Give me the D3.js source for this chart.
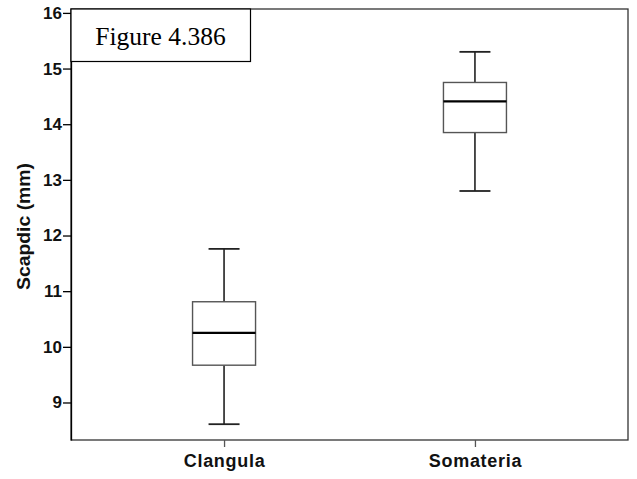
<!DOCTYPE html>
<html><head><meta charset="utf-8">
<script src="https://cdn.jsdelivr.net/npm/d3@7"></script>
<style>body{margin:0;background:#fff}svg{display:block}</style>
</head><body>
<script>
const categories = ["Clangula", "Somateria"];
const whiskerLow  = [8.61, 12.80];
const q1          = [9.67, 13.85];
const medians     = [10.25, 14.41];
const q3          = [10.81, 14.75];
const whiskerHigh = [11.76, 15.30];
const yTicks = [9, 10, 11, 12, 13, 14, 15, 16];
const yTitle = "Scapdic (mm)";
const figLabel = "Figure 4.386";

const W = 637, H = 479;
const L = 71, R = 628, T = 9, B = 440;
const svg = d3.select("body").append("svg").attr("width", W).attr("height", H);

const y = d3.scaleLinear().domain([8.326, 16.07]).range([B, T]);
const x = d3.scalePoint().domain(categories).range([L, R]).padding(0.61);
const boxW = 63, capW = 31;

// frame
svg.append("rect").attr("x", L).attr("y", T).attr("width", R - L).attr("height", B - T)
  .attr("fill", "none").attr("stroke", "#333").attr("stroke-width", 1.3);

// y axis
const ya = svg.append("g").attr("transform", `translate(${L},0)`)
  .call(d3.axisLeft(y).tickValues(yTicks).tickSizeInner(8).tickSizeOuter(0).tickPadding(1).tickFormat(d3.format("d")));
ya.select(".domain").attr("stroke", "#000").attr("stroke-width", 1.3);
ya.selectAll(".tick line").attr("stroke", "#000").attr("stroke-width", 1.3);
ya.selectAll(".tick text").attr("font-family", "Liberation Sans, Arial, sans-serif")
  .attr("font-weight", "bold").attr("font-size", 17).attr("fill", "#111");

// x axis
const xa = svg.append("g").attr("transform", `translate(0,${B})`)
  .call(d3.axisBottom(x).tickSizeInner(7).tickSizeOuter(0).tickPadding(7));
xa.select(".domain").remove();
xa.selectAll(".tick line").attr("stroke", "#555").attr("stroke-width", 1.3);
xa.selectAll(".tick text").attr("font-family", "Liberation Sans, Arial, sans-serif")
  .attr("font-weight", "bold").attr("font-size", 18).attr("fill", "#111")
  .attr("letter-spacing", 0.7);

// y title
svg.append("text").attr("transform", `translate(29.5,${(T + B) / 2 + 2}) rotate(-90)`)
  .attr("text-anchor", "middle").attr("font-family", "Liberation Sans, Arial, sans-serif")
  .attr("font-weight", "bold").attr("font-size", 17.5).attr("fill", "#111")
  .attr("textLength", 127).attr("lengthAdjust", "spacingAndGlyphs").text(yTitle);

// boxes
const g = svg.append("g");
categories.forEach((c, i) => {
  const cx = x(c);
  g.append("line").attr("x1", cx).attr("x2", cx).attr("y1", y(whiskerHigh[i])).attr("y2", y(q3[i]))
    .attr("stroke", "#222").attr("stroke-width", 1.6);
  g.append("line").attr("x1", cx).attr("x2", cx).attr("y1", y(q1[i])).attr("y2", y(whiskerLow[i]))
    .attr("stroke", "#222").attr("stroke-width", 1.6);
  [whiskerHigh[i], whiskerLow[i]].forEach(v => {
    g.append("line").attr("x1", cx - capW / 2).attr("x2", cx + capW / 2).attr("y1", y(v)).attr("y2", y(v))
      .attr("stroke", "#222").attr("stroke-width", 1.8);
  });
  g.append("rect").attr("x", cx - boxW / 2).attr("y", y(q3[i])).attr("width", boxW)
    .attr("height", y(q1[i]) - y(q3[i])).attr("fill", "#fff").attr("stroke", "#555").attr("stroke-width", 1.4);
  g.append("line").attr("x1", cx - boxW / 2).attr("x2", cx + boxW / 2).attr("y1", y(medians[i])).attr("y2", y(medians[i]))
    .attr("stroke", "#000").attr("stroke-width", 2.2);
});

// figure label box
svg.append("rect").attr("x", L).attr("y", T).attr("width", 179.5).attr("height", 52.5)
  .attr("fill", "#fff").attr("stroke", "#000").attr("stroke-width", 1.2);
svg.append("text").attr("x", L + 89.5).attr("y", T + 36).attr("text-anchor", "middle")
  .attr("font-family", "Liberation Serif, Times New Roman, serif").attr("font-size", 25.5)
  .attr("fill", "#000").text(figLabel);
</script>
</body></html>
